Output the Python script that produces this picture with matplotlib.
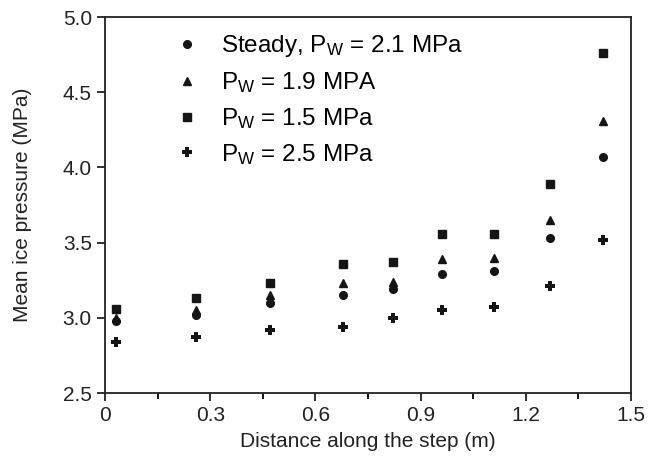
import matplotlib
matplotlib.use("Agg")
import matplotlib.pyplot as plt
from matplotlib.ticker import MultipleLocator

plt.rcParams['font.family'] = ['Liberation Sans', 'DejaVu Sans']
plt.rcParams['mathtext.fontset'] = 'custom'
plt.rcParams['mathtext.rm'] = 'Liberation Sans'
plt.rcParams['mathtext.it'] = 'Liberation Sans'

distance = [0.03, 0.26, 0.47, 0.68, 0.82, 0.96, 1.11, 1.27, 1.42]
steady_21 = [2.98, 3.02, 3.10, 3.15, 3.19, 3.29, 3.31, 3.53, 4.07]
pw_19 = [3.00, 3.05, 3.15, 3.23, 3.24, 3.39, 3.40, 3.65, 4.31]
pw_15 = [3.06, 3.13, 3.23, 3.36, 3.37, 3.56, 3.56, 3.89, 4.76]
pw_25 = [2.84, 2.87, 2.92, 2.94, 3.00, 3.05, 3.07, 3.21, 3.52]

labels = [r"Steady, P$_\mathrm{W}$ = 2.1 MPa",
          r"P$_\mathrm{W}$ = 1.9 MPA",
          r"P$_\mathrm{W}$ = 1.5 MPa",
          r"P$_\mathrm{W}$ = 2.5 MPa"]
xtick_vals = [0, 0.3, 0.6, 0.9, 1.2, 1.5]
xtick_labels = ['0', '0.3', '0.6', '0.9', '1.2', '1.5']
ytick_vals = [2.5, 3.0, 3.5, 4.0, 4.5, 5.0]
ytick_labels = ['2.5', '3.0', '3.5', '4.0', '4.5', '5.0']

fig = plt.figure(figsize=(6.49, 4.73), dpi=100)
ax = fig.add_axes([105/649, 1-393/473, (631-105)/649, (393-17)/473])

c = '#151515'
ax.plot(distance, steady_21, linestyle='none', marker='o', ms=5.5, color=c, label=labels[0])
ax.plot(distance, pw_19, linestyle='none', marker='^', ms=5.5, color=c, label=labels[1])
ax.plot(distance, pw_15, linestyle='none', marker='s', ms=5.5, color=c, label=labels[2])
ax.plot(distance, pw_25, linestyle='none', marker='P', ms=6.5, markeredgewidth=0, color=c, label=labels[3])

ax.set_xlim(0, 1.5)
ax.set_ylim(2.5, 5.0)
ax.set_xticks(xtick_vals)
ax.set_xticklabels(xtick_labels)
ax.xaxis.set_minor_locator(MultipleLocator(0.15))
ax.set_yticks(ytick_vals)
ax.set_yticklabels(ytick_labels)

ax.tick_params(axis='both', which='major', direction='out', length=6, width=1.3,
               labelsize=15, colors='#222222')
ax.tick_params(axis='x', which='minor', direction='out', length=4, width=1.3)
for sp in ax.spines.values():
    sp.set_linewidth(1.3)
    sp.set_color('#222222')

ax.set_xlabel('Distance along the step (m)', fontsize=15, color='#222222', labelpad=5)
ax.set_ylabel('Mean ice pressure (MPa)', fontsize=15, color='#222222', labelpad=22)

leg = ax.legend(loc='upper left', bbox_to_anchor=(0.095, 1.015), frameon=False,
                fontsize=17.5, handlelength=0.8, handletextpad=1.0,
                labelspacing=0.45, numpoints=1)

fig.savefig('out.png', dpi=100, facecolor='white')
